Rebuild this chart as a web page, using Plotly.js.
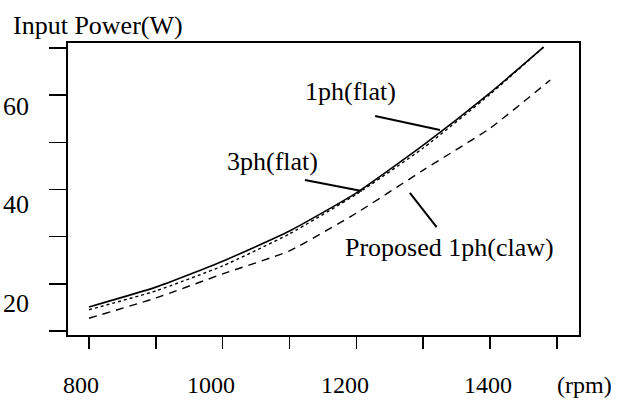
<!DOCTYPE html>
<html>
<head>
<meta charset="utf-8">
<script src="https://cdn.plot.ly/plotly-3.0.1.min.js"></script>
<style>html,body{margin:0;padding:0;background:#fff;}#chart{width:621px;height:400px;}</style>
</head>
<body>
<div id="chart"></div>
<script>
// speed (rpm)
const rpm = [800, 900, 1000, 1100, 1200, 1300, 1400, 1480];
const rpmClaw = [800, 900, 1000, 1100, 1200, 1300, 1400, 1490];
// input power (W)
const power1phFlat = [15.1, 19.3, 24.8, 31.2, 39.3, 49.4, 60.5, 70.2];
const power3phFlat = [14.5, 18.5, 23.8, 30.6, 39.0, 48.8, 60.2, 70.2];
const powerClaw = [12.7, 17.0, 22.1, 27.0, 35.0, 44.1, 53.0, 63.2];
// axis labels
const xTickVals = [800, 900, 1000, 1100, 1200, 1300, 1400, 1500];
const xLabelVals = [800, 1000, 1200, 1400];
const xLabelText = ['800', '1000', '1200', '1400'];
const xLabelShift = [-8, -12, -11, -2];
const yTickVals = [10, 20, 30, 40, 50, 60, 70];
const yLabelVals = [20, 40, 60];
const yLabelText = ['20', '40', '60'];
const yLabelShift = [-20, -15, -11];
const seriesNames = ['1ph(flat)', '3ph(flat)', 'Proposed 1ph(claw)'];

const FONT = '"Liberation Serif", "Times New Roman", serif';
const FS = 26;
const FSX = 24;

const traces = [
  {x: rpm, y: power1phFlat, name: seriesNames[0], mode: 'lines',
   line: {color: '#000', width: 1.6, shape: 'spline', smoothing: 0.5}},
  {x: rpm, y: power3phFlat, name: seriesNames[1], mode: 'lines',
   line: {color: '#000', width: 1.4, dash: '3px,3px', shape: 'spline', smoothing: 0.5}},
  {x: rpmClaw, y: powerClaw, name: seriesNames[2], mode: 'lines',
   line: {color: '#000', width: 1.4, dash: '8px,6px', shape: 'spline', smoothing: 0.5}}
];

const annotations = [];
xLabelVals.forEach((v, i) => annotations.push({
  x: v, xref: 'x', y: 0, yref: 'paper', text: xLabelText[i], showarrow: false,
  xanchor: 'center', yanchor: 'middle', xshift: xLabelShift[i], yshift: -50,
  font: {family: FONT, size: FSX, color: '#000'}
}));
annotations.push({x: 1.0117, xref: 'paper', y: 0, yref: 'paper', text: '(rpm)', showarrow: false,
  xanchor: 'center', yanchor: 'middle', yshift: -50, font: {family: FONT, size: FSX, color: '#000'}});
yLabelVals.forEach((v, i) => annotations.push({
  x: 0, xref: 'paper', y: v, yref: 'y', text: yLabelText[i], showarrow: false,
  xanchor: 'center', yanchor: 'middle', xshift: -52, yshift: yLabelShift[i],
  font: {family: FONT, size: FS, color: '#000'}
}));
annotations.push({x: -0.111, xref: 'paper', y: 1.0616, yref: 'paper', text: 'Input Power(W)', showarrow: false,
  xanchor: 'left', yanchor: 'middle', font: {family: FONT, size: FS, color: '#000'}});
// series labels
annotations.push({x: 0.5519, xref: 'paper', y: 0.8322, yref: 'paper', text: seriesNames[0], showarrow: false,
  xanchor: 'center', yanchor: 'middle', font: {family: FONT, size: FS, color: '#000'}});
annotations.push({x: 0.4002, xref: 'paper', y: 0.5925, yref: 'paper', text: seriesNames[1], showarrow: false,
  xanchor: 'center', yanchor: 'middle', font: {family: FONT, size: FS, color: '#000'}});
annotations.push({x: 0.7465, xref: 'paper', y: 0.2997, yref: 'paper', text: seriesNames[2], showarrow: false,
  xanchor: 'center', yanchor: 'middle', font: {family: FONT, size: FS, color: '#000'}});

const shapes = [
  {type: 'line', xref: 'x', yref: 'y', x0: 1228, y0: 55.6, x1: 1325, y1: 52.6, line: {color: '#000', width: 2}},
  {type: 'line', xref: 'x', yref: 'y', x0: 1123, y0: 42.0, x1: 1208, y1: 39.7, line: {color: '#000', width: 2}},
  {type: 'line', xref: 'x', yref: 'y', x0: 1280, y0: 39.3, x1: 1320, y1: 32.0, line: {color: '#000', width: 2}}
];

const layout = {
  width: 621, height: 400,
  margin: {l: 68, r: 42, t: 43, b: 65},
  paper_bgcolor: '#fff', plot_bgcolor: '#fff',
  showlegend: false,
  font: {family: FONT, size: FS, color: '#000'},
  xaxis: {range: [768.6, 1533], tickvals: xTickVals, showticklabels: false,
    ticks: 'outside', ticklen: 12, tickwidth: 1.5, tickcolor: '#000',
    showline: true, linecolor: '#000', linewidth: 1.8, mirror: true,
    showgrid: false, zeroline: false},
  yaxis: {range: [9.15, 71.06], tickvals: yTickVals, showticklabels: false,
    ticks: 'outside', ticklen: 17, tickwidth: 1.5, tickcolor: '#000',
    showline: true, linecolor: '#000', linewidth: 1.8, mirror: true,
    showgrid: false, zeroline: false},
  annotations: annotations,
  shapes: shapes
};

Plotly.newPlot('chart', traces, layout, {displayModeBar: false, staticPlot: true});
</script>
</body>
</html>
